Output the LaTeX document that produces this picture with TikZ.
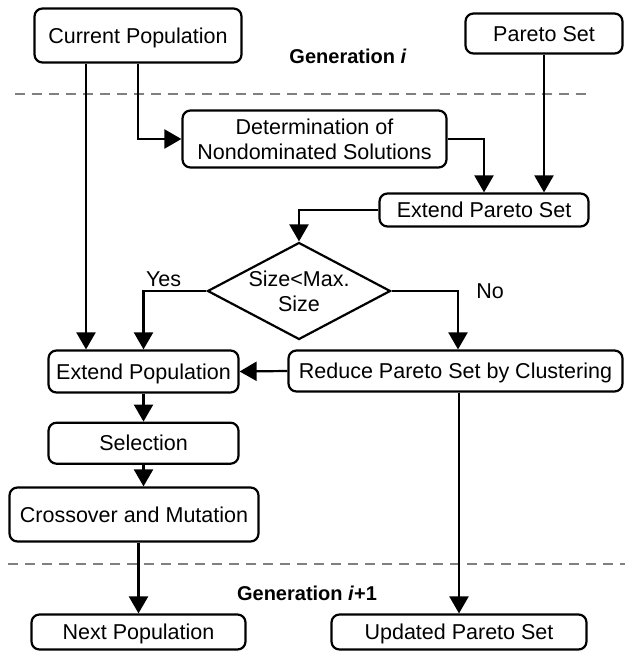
\documentclass[tikz,border=0pt]{standalone}
\usepackage{fontspec}
\setmainfont{Liberation Sans}
\usetikzlibrary{arrows.meta,positioning,shapes.geometric}

\begin{document}
\begin{tikzpicture}[x=1pt,y=-1pt,>={Triangle[length=17pt,width=19pt]},
    line width=2.2pt, font=\fontsize{21.5pt}{25pt}\selectfont,
    box/.style={draw, rounded corners=8pt, inner sep=0pt, text height=15.5pt, text depth=0pt},
    twoline/.style={draw, rounded corners=8pt, inner sep=0pt, align=center},
    gen/.style={font=\fontsize{20pt}{24pt}\selectfont\bfseries},
    sep/.style={draw=gray, line width=1.4pt, dash pattern=on 10pt off 7pt}]
  \useasboundingbox (0,0) rectangle (625,652);
  % generation i
  \node[box, minimum width=207pt, minimum height=54pt] (curpop) at (138,35.5) {Current Population};
  \node[box, minimum width=157pt, minimum height=40pt] (pareto) at (544,33.5) {Pareto Set};
  \node[gen] (geni) at (348,56.5) {Generation \textit{i}};
  \draw[sep] (15,94) -- (593,94);
  \node[twoline, minimum width=264pt, minimum height=57pt] (determ) at (314.5,139) {Determination of\\Nondominated Solutions};
  \node[box, minimum width=209pt, minimum height=33pt] (extpareto) at (484,210) {Extend Pareto Set};
  \node[diamond, draw, inner sep=0pt, aspect=1.89, minimum width=183pt, minimum height=97pt, align=center] (sizeok) at (299,291) {Size<Max.\\Size};
  \node[box, minimum width=190pt, minimum height=42pt] (extpop) at (143.5,371.5) {Extend Population};
  \node[box, minimum width=334pt, minimum height=41pt] (reduce) at (455.5,371) {Reduce Pareto Set by Clustering};
  \node[box, minimum width=190pt, minimum height=41pt, below=28pt of extpop] (select) {Selection};
  \node[box, minimum width=249pt, minimum height=54pt] (cross) at (134,514.5) {Crossover and Mutation};
  % generation i+1
  \draw[sep] (8,564) -- (625,564);
  \node[gen] (genii) at (307,593) {Generation \textit{i}+1};
  \node[box, minimum width=214pt, minimum height=35pt] (nextpop) at (138.5,632) {Next Population};
  \node[box, minimum width=255pt, minimum height=35pt] (updpareto) at (459,632) {Updated Pareto Set};

  \draw[->] ([xshift=-52pt]curpop.south) -- ([xshift=-52pt]curpop.south |- extpop.north);
  \draw[->] (curpop.south) |- (determ.west);
  \draw[->] (determ.east) -| (extpareto.north);
  \draw[->] (pareto.south) -- (pareto.south |- extpareto.north);
  \draw[->] (extpareto.west) -| (sizeok.north);
  \draw[->] (sizeok.west) -| node[pos=0.34, above]{Yes} (extpop.north);
  \draw[->] (sizeok.east) -| node[pos=0.5, right, xshift=14pt]{No} ([xshift=2.5pt]reduce.north);
  \draw[->] (reduce.west) -- (extpop.east);
  \draw[->] (extpop.south) -- (select.north);
  \draw[->] (select.south) -- (select.south |- cross.north);
  \draw[->] (nextpop.north |- cross.south) -- (nextpop.north);
  \draw[->] (updpareto.north |- reduce.south) -- (updpareto.north);
\end{tikzpicture}
\end{document}
